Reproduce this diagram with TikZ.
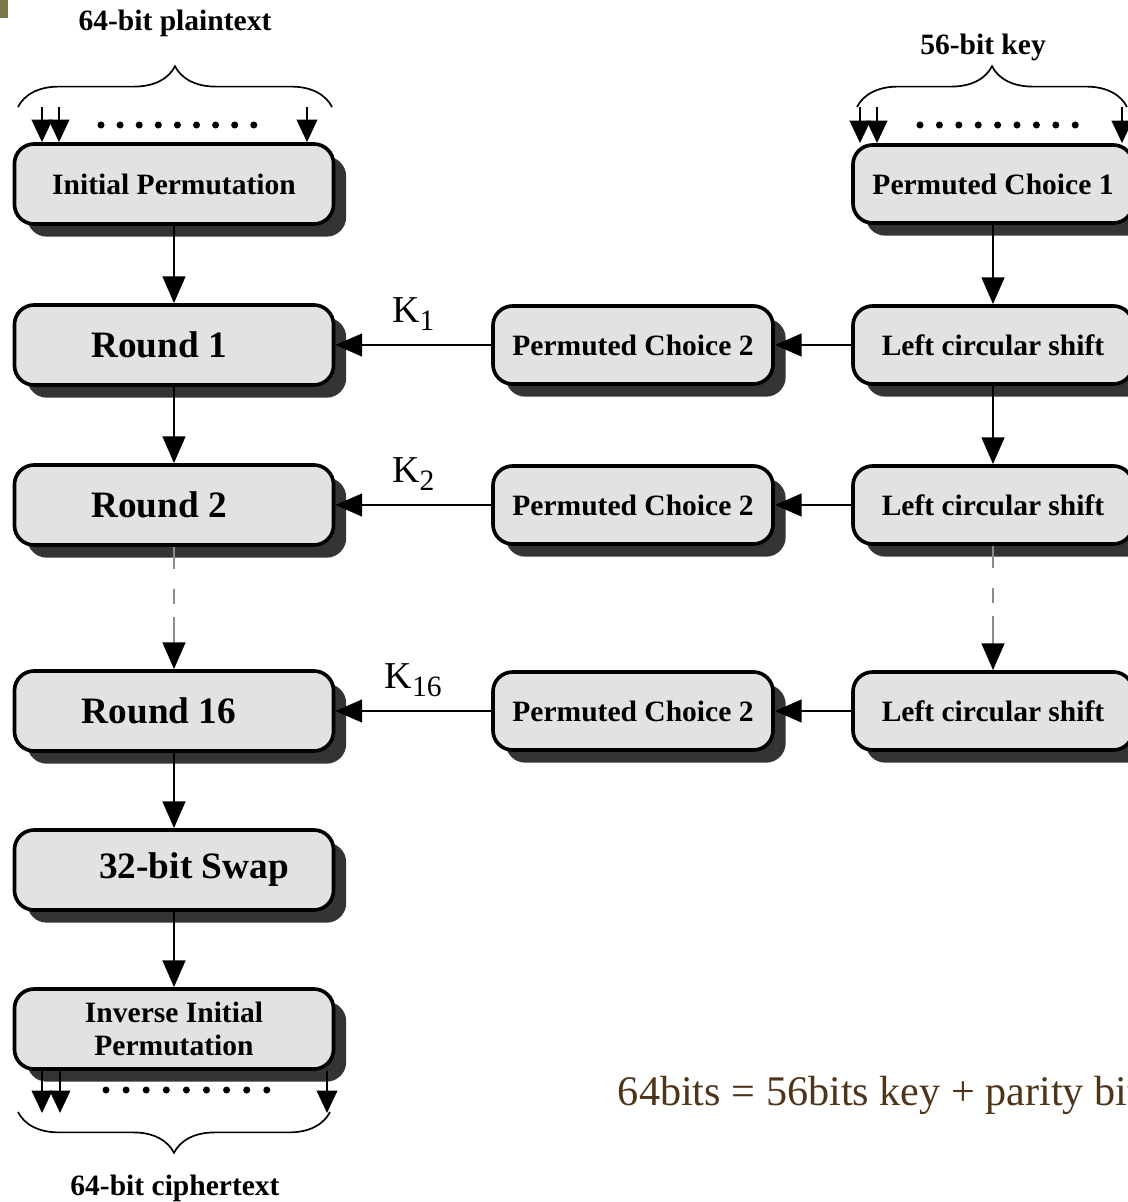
\documentclass[tikz,border=0pt]{standalone}
\usepackage{fontspec}
\setmainfont{Liberation Serif}
\usetikzlibrary{arrows.meta,shadows,decorations.pathreplacing}

\definecolor{boxgray}{RGB}{226,226,226}
\definecolor{shadowgray}{RGB}{52,52,52}
\definecolor{dashgray}{RGB}{140,140,140}
\definecolor{notebrown}{RGB}{78,52,24}
\definecolor{cornerolive}{RGB}{125,118,72}

\newcommand{\boxfont}{\fontsize{21pt}{23pt}\selectfont\bfseries}
\newcommand{\roundfont}{\fontsize{26.5pt}{28pt}\selectfont\bfseries}
\newcommand{\keylabel}[1]{\fontsize{27pt}{28pt}\selectfont K\raisebox{-6pt}{\fontsize{21pt}{22pt}\selectfont #1}}
% nine dots between the bit arrows: first x, y, spacing
\newcommand{\bitdots}[3]{
\foreach \k in {0,...,8} \fill (#1+#3*\k,#2) circle [radius=2.5pt];
}

\tikzset{
  stage/.style={draw, line width=2.6pt, rounded corners=14pt, fill=boxgray,
    inner sep=0pt, align=center,
    drop shadow={shadow xshift=9pt, shadow yshift=-9pt, fill=shadowgray, opacity=1}},
  wide/.style={stage, minimum width=7.975cm, minimum height=2cm},
  narrow/.style={stage, minimum width=7cm, minimum height=1.95cm, font=\boxfont},
  flow/.style={line width=2pt, -{Triangle[width=16pt,length=19pt]}},
  skip/.style={line width=2pt, draw=dashgray,
    dash pattern=on 15.6pt off 14.2pt on 10.7pt off 9.2pt on 80pt,
    -{Triangle[width=16pt,length=19pt,color=black]}},
  bit/.style={line width=2pt, -{Triangle[width=14.5pt,length=16pt]}},
  bundle/.style={line width=1.2pt, decorate, decoration={brace, amplitude=29pt}},
  klabel/.style={midway, above=9pt, inner sep=0pt}
}

\begin{document}
\begin{tikzpicture}[x=0.025cm, y=-0.025cm]
\useasboundingbox (0,0) rectangle (1128,1202);
\fill[cornerolive] (0,0) rectangle (8,18);

% data path
\node[wide, font=\boxfont] (ip) at (174,184) {Initial Permutation};
\node[wide, font=\roundfont] (r1) at (174,345) {Round 1\hspace*{0.75cm}};
\node[wide, font=\roundfont] (r2) at (174,505) {Round 2\hspace*{0.75cm}};
\node[wide, font=\roundfont] (r16) at (174,711) {Round 16\hspace*{0.75cm}};
\node[wide, font=\roundfont] (swap) at (174,870) {\hspace*{1cm}32-bit Swap};
\node[wide, font=\boxfont] (iip) at (174,1029) {Inverse Initial\\Permutation};

% key schedule
\node[narrow] (pc1) at (993,184) {Permuted Choice 1};
\node[narrow] (lcs1) at (993,345) {Left circular shift};
\node[narrow] (lcs2) at (993,505) {Left circular shift};
\node[narrow] (lcs16) at (993,711) {Left circular shift};
\node[narrow] (pcb1) at (633,345) {Permuted Choice 2};
\node[narrow] (pcb2) at (633,505) {Permuted Choice 2};
\node[narrow] (pcb16) at (633,711) {Permuted Choice 2};

\draw[flow] (ip) -- (r1);
\draw[flow] (r1) -- (r2);
\draw[skip] (r2) -- (r16);
\draw[flow] (r16) -- (swap);
\draw[flow] (swap) -- (iip);

\draw[flow] (pc1) -- (lcs1);
\draw[flow] (lcs1) -- (lcs2);
\draw[skip] (lcs2) -- (lcs16);

\draw[flow] (lcs1) -- (pcb1);
\draw[flow] (lcs2) -- (pcb2);
\draw[flow] (lcs16) -- (pcb16);
\draw[flow] (pcb1) -- node[klabel] (k1) {\keylabel{1}} (r1);
\draw[flow] (pcb2) -- node[klabel] (k2) {\keylabel{2}} (r2);
\draw[flow] (pcb16) -- node[klabel] (k16) {\keylabel{16}} (r16);

% input and output bits
\node[font=\boxfont] (plain) at (175,23) {64-bit plaintext};
\draw[bundle] (18,107) -- (332,107);
\foreach \x [count=\i] in {42,59,307} {
  \coordinate (pin\i) at (\x,107);
  \draw[bit] (pin\i) -- (pin\i |- ip.north);
}
\bitdots{101}{125}{19.1}

\node[font=\boxfont] (key) at (983,47) {56-bit key};
\draw[bundle] (857,107) -- (1127,107);
\foreach \x [count=\i] in {860,877,1122} {
  \coordinate (kin\i) at (\x,107);
  \draw[bit] (kin\i) -- (kin\i |- pc1.north);
}
\bitdots{920}{125}{19.4}

\draw[bundle] (330,1112) -- (18,1112);
\foreach \x [count=\i] in {42,60,327} {
  \coordinate (cout\i) at (\x,1113);
  \draw[bit] (cout\i |- iip.south) -- (cout\i);
}
\bitdots{106}{1090}{20.1}
\node[font=\boxfont] (cipher) at (175,1188) {64-bit ciphertext};

\node[anchor=base west, text=notebrown, font=\fontsize{30pt}{32pt}\selectfont] (note) at (613,1105) {64bits = 56bits key + parity bits};
\end{tikzpicture}
\end{document}
